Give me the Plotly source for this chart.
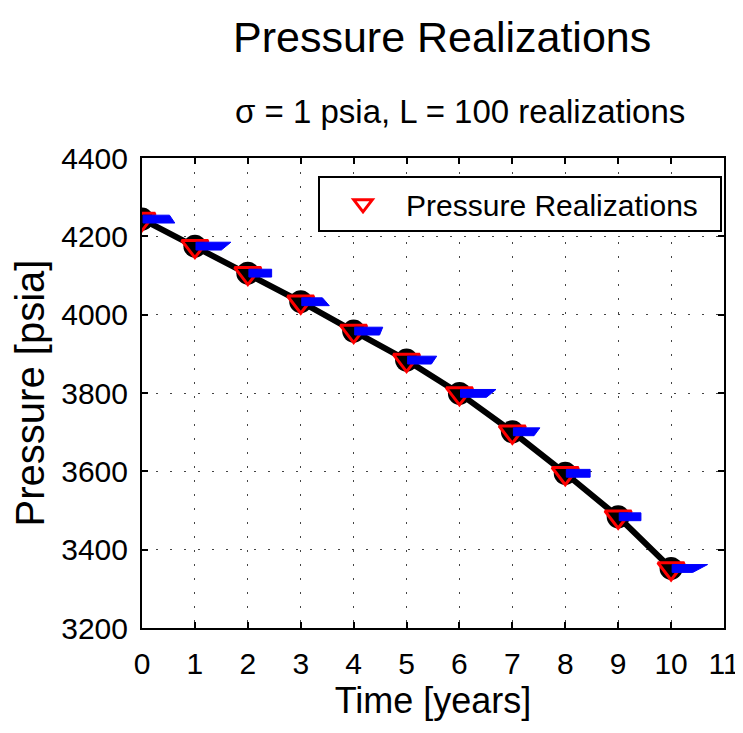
import plotly.graph_objects as go

# values
time_years = [0, 1, 2, 3, 4, 5, 6, 7, 8, 9, 10]
pressure_psia = [4244, 4175, 4106, 4033, 3958, 3884, 3799, 3701, 3595, 3484, 3352]

# length (years) of the top and bottom edge of the blue patch at each time
blue_top_len = [0.52, 0.68, 0.45, 0.41, 0.55, 0.57, 0.69, 0.52, 0.47, 0.43, 0.69]
blue_bot_len = [0.62, 0.50, 0.45, 0.54, 0.49, 0.47, 0.51, 0.41, 0.47, 0.43, 0.41]
blue_half_height = 10  # psia

x_ticks = list(range(0, 12))
y_ticks = list(range(3200, 4401, 200))

FONT = "Liberation Sans, Arial, sans-serif"

# blue patches: one closed polygon per time step, separated by None
blue_x, blue_y = [], []
for t, p, lt, lb in zip(time_years, pressure_psia, blue_top_len, blue_bot_len):
    blue_x += [t + 0.02, t + lt, t + lb, t + 0.02, t + 0.02, None]
    blue_y += [p + blue_half_height, p + blue_half_height,
               p - blue_half_height, p - blue_half_height,
               p + blue_half_height, None]

fig = go.Figure()
fig.add_trace(go.Scatter(
    x=time_years, y=pressure_psia, mode="lines",
    line={"color": "black", "width": 6}, showlegend=False,
))
fig.add_trace(go.Scatter(
    x=time_years, y=pressure_psia, mode="markers",
    marker={"symbol": "circle", "size": 23, "color": "black"},
    showlegend=False,
))
fig.add_trace(go.Scatter(
    x=time_years, y=pressure_psia, mode="markers",
    marker={"symbol": "triangle-down-open", "size": 23, "color": "red",
            "line": {"width": 3, "color": "red"}},
    name="Pressure Realizations\u00a0\u00a0",
))
fig.add_trace(go.Scatter(
    x=blue_x, y=blue_y, mode="lines", fill="toself",
    fillcolor="blue", line={"color": "blue", "width": 1},
    showlegend=False, hoverinfo="skip",
))

axis_common = {
    "showline": True, "linecolor": "black", "linewidth": 2, "mirror": "ticks",
    "ticks": "inside", "ticklen": 6, "tickwidth": 2, "tickcolor": "black",
    "showgrid": True, "gridcolor": "#444", "gridwidth": 1, "griddash": "2px,12px",
    "zeroline": False, "automargin": False,
    "tickfont": {"family": FONT, "size": 30, "color": "black"},
}

# the page body adds an 8px offset, so the figure is sized to fit the window
fig.update_layout(
    width=735, height=725,
    margin={"l": 134, "r": 19, "t": 150, "b": 105, "autoexpand": False},
    paper_bgcolor="white", plot_bgcolor="white",
    font={"family": FONT, "color": "black"},
    xaxis={**axis_common, "range": [0, 11], "tickvals": x_ticks,
           "ticklabelstandoff": 8,
           "title": {"text": "Time [years]", "font": {"size": 36}, "standoff": 2}},
    yaxis={**axis_common, "range": [3200, 4400], "tickvals": y_ticks,
           "ticklabelstandoff": 6,
           "title": {"text": "Pressure [psia]", "font": {"size": 40}, "standoff": 10}},
    legend={
        "x": 0.9966, "xanchor": "right", "y": 0.962, "yanchor": "top",
        "bgcolor": "white", "bordercolor": "black", "borderwidth": 2,
        "font": {"family": FONT, "size": 30, "color": "black"},
        "itemwidth": 76,
    },
    annotations=[
        {"text": "Pressure Realizations", "xref": "paper", "yref": "paper",
         "x": 0.515, "y": 1.257, "xanchor": "center", "yanchor": "middle",
         "showarrow": False, "font": {"family": FONT, "size": 43}},
        {"text": "σ = 1 psia, L = 100 realizations", "xref": "paper", "yref": "paper",
         "x": 0.547, "y": 1.098, "xanchor": "center", "yanchor": "middle",
         "showarrow": False, "font": {"family": FONT, "size": 33}},
    ],
)

fig.write_html("out.html")
